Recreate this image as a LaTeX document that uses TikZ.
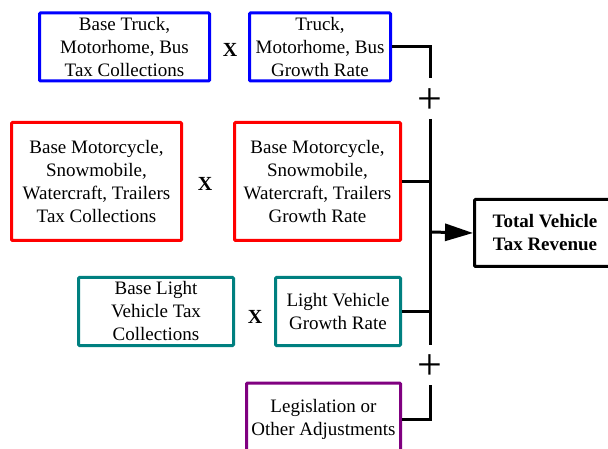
\documentclass[tikz,border=0pt]{standalone}
\usepackage{fontspec}
\setmainfont{Liberation Serif}
\usetikzlibrary{arrows.meta}
\definecolor{cblue}{RGB}{0,0,255}
\definecolor{cred}{RGB}{255,0,0}
\definecolor{cteal}{RGB}{0,128,128}
\definecolor{cpurple}{RGB}{128,0,128}
\begin{document}
\begin{tikzpicture}[x=1pt,y=-1pt,
  box/.style={draw, line width=3pt, rectangle, rounded corners=1pt, inner sep=0pt, align=center, fill=white,
    font=\fontsize{19}{23}\selectfont},
  times/.style={font=\fontsize{20}{20}\selectfont\bfseries, inner sep=0pt},
  plussign/.style={font=\fontsize{44}{44}\selectfont, inner sep=0pt},
  conn/.style={line width=3pt}]
\useasboundingbox (0,0) rectangle (608,449);
\begin{scope}
\clip (0,0) rectangle (608,449);
% blue row
\node[box, draw=cblue, minimum width=170pt, minimum height=68pt] (b1) at (124.5,47) {Base Truck,\\Motorhome, Bus\\Tax Collections};
\node[times] (x1) at (230,50) {X};
\node[box, draw=cblue, minimum width=141pt, minimum height=68pt] (b2) at (320,47) {Truck,\\Motorhome, Bus\\Growth Rate};
% red row
\node[box, draw=cred, minimum width=170pt, minimum height=118pt] (r1) at (96.5,181.5) {Base Motorcycle,\\Snowmobile,\\Watercraft, Trailers\\Tax Collections};
\node[times] (x2) at (205,184) {X};
\node[box, draw=cred, minimum width=166pt, minimum height=118pt] (r2) at (317.5,181.5) {Base Motorcycle,\\Snowmobile,\\Watercraft, Trailers\\Growth Rate};
% teal row
\node[box, draw=cteal, minimum width=155pt, minimum height=68pt] (t1) at (156,311.5) {Base Light\\Vehicle Tax\\Collections};
\node[times] (x3) at (255,317) {X};
\node[box, draw=cteal, minimum width=125pt, minimum height=68pt] (t2) at (338,311.5) {Light Vehicle\\Growth Rate};
% purple
\node[box, draw=cpurple, minimum width=154pt, minimum height=72pt] (p) at (323.5,419) {Legislation or\\Other Adjustments};
% total
\node[box, draw=black, minimum width=141pt, minimum height=67pt, font=\fontsize{19}{23}\selectfont\bfseries] (tot) at (545,233) {Total Vehicle\\Tax Revenue};
% plus signs
\node[plussign] (plus1) at (430,101) {+};
\node[plussign] (plus2) at (430,367) {+};
% bus coordinates
\coordinate (a1) at (430,78);
\coordinate (a2) at (430,119);
\coordinate (a3) at (430,345);
\coordinate (a4) at (430,385);
\coordinate (aj) at (430,232);
% connectors
\draw[conn] (b2.east) -| (a1);
\draw[conn] (a2) -- (a3);
\draw[conn] (r2.east) -- (r2.east -| a2);
\draw[conn] (t2.east) -- (t2.east -| a2);
\draw[conn] (a4) |- (p.east);
\draw[conn, -{Triangle[length=28pt,width=17pt]}] (aj) -- (tot.west);
\end{scope}
\end{tikzpicture}
\end{document}
